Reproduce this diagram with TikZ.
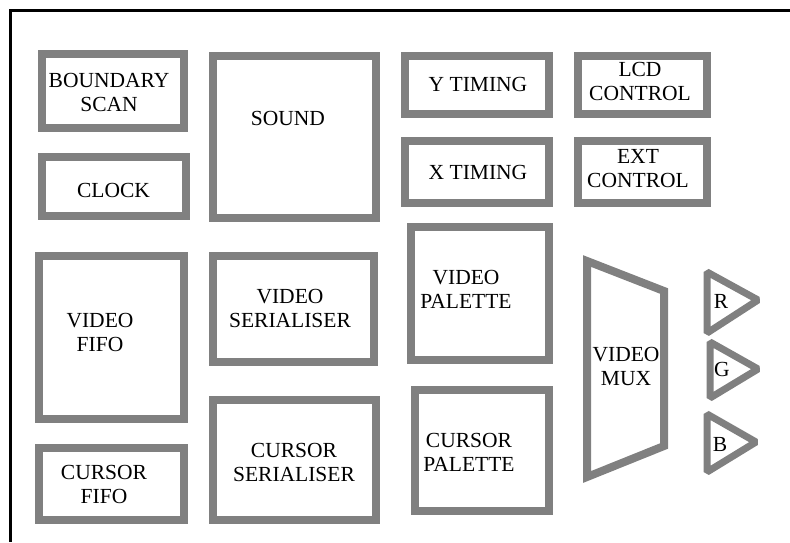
\documentclass[tikz,border=0pt]{standalone}
\usepackage{fontspec}
\setmainfont{Liberation Serif}
\usepackage{tikz}

\begin{document}
\begin{tikzpicture}[x=1pt,y=-1pt,
  blk/.style={draw=gray,line width=8pt,inner sep=0pt},
  lbl/.style={align=center,inner sep=0pt,font=\fontsize{21.5}{24}\selectfont},
  amp/.style={draw=gray,line width=7pt,line join=bevel}]
\useasboundingbox (0,0) rectangle (790,542);
\draw[line width=3pt] (790,10.5) -- (10.5,10.5) -- (10.5,542);
\node[blk,minimum width=142pt,minimum height=74pt] (bscan) at (113,91) {};
\node[blk,minimum width=144pt,minimum height=59pt] (clock) at (114,186.5) {};
\node[blk,minimum width=163pt,minimum height=162pt] (sound) at (294.5,137) {};
\node[blk,minimum width=144pt,minimum height=58pt] (ytim) at (477,85) {};
\node[blk,minimum width=129pt,minimum height=58pt] (lcd) at (642.5,85) {};
\node[blk,minimum width=144pt,minimum height=62pt] (xtim) at (477,172) {};
\node[blk,minimum width=129pt,minimum height=62pt] (ext) at (642.5,172) {};
\node[blk,minimum width=145pt,minimum height=163pt] (vfifo) at (111.5,337.5) {};
\node[blk,minimum width=161pt,minimum height=106pt] (vser) at (293.5,309) {};
\node[blk,minimum width=145pt,minimum height=72pt] (cfifo) at (111.5,484) {};
\node[blk,minimum width=163pt,minimum height=120pt] (cser) at (294.5,460) {};
\node[blk,minimum width=138pt,minimum height=133pt] (vpal) at (480,293.5) {};
\node[blk,minimum width=134pt,minimum height=121pt] (cpal) at (482,450.5) {};
\draw[draw=gray,line width=8pt] (587,261) -- (664,291) -- (664,446) -- (587,477) -- cycle;
\draw[amp] (707,272) -- (758,300) -- (707,333) -- cycle;
\draw[amp] (710,342) -- (758,369) -- (710,398) -- cycle;
\draw[amp] (707,414) -- (756,442) -- (707,472) -- cycle;
\node[lbl] (bscant) at (109,92.5) {BOUNDARY\\SCAN};
\node[lbl] (clockt) at (113.5,190) {CLOCK};
\node[lbl] (soundt) at (288,118) {SOUND};
\node[lbl] (ytimt) at (478,84) {Y TIMING};
\node[lbl] (lcdt) at (640,81.5) {LCD\\CONTROL};
\node[lbl] (xtimt) at (478,172) {X TIMING};
\node[lbl] (extt) at (638,168.5) {EXT\\CONTROL};
\node[lbl] (vfifot) at (100,332.5) {VIDEO\\FIFO};
\node[lbl] (vsert) at (290,308.5) {VIDEO\\SERIALISER};
\node[lbl] (cfifot) at (104,484) {CURSOR\\FIFO};
\node[lbl] (csert) at (294,462.5) {CURSOR\\SERIALISER};
\node[lbl] (vpalt) at (466,289) {VIDEO\\PALETTE};
\node[lbl] (cpalt) at (469,452.5) {CURSOR\\PALETTE};
\node[lbl] (muxt) at (626,366) {VIDEO\\MUX};
\node[lbl] (rt) at (721,301) {R};
\node[lbl] (gt) at (722,369) {G};
\node[lbl] (bt) at (720,444) {B};
\end{tikzpicture}
\end{document}
